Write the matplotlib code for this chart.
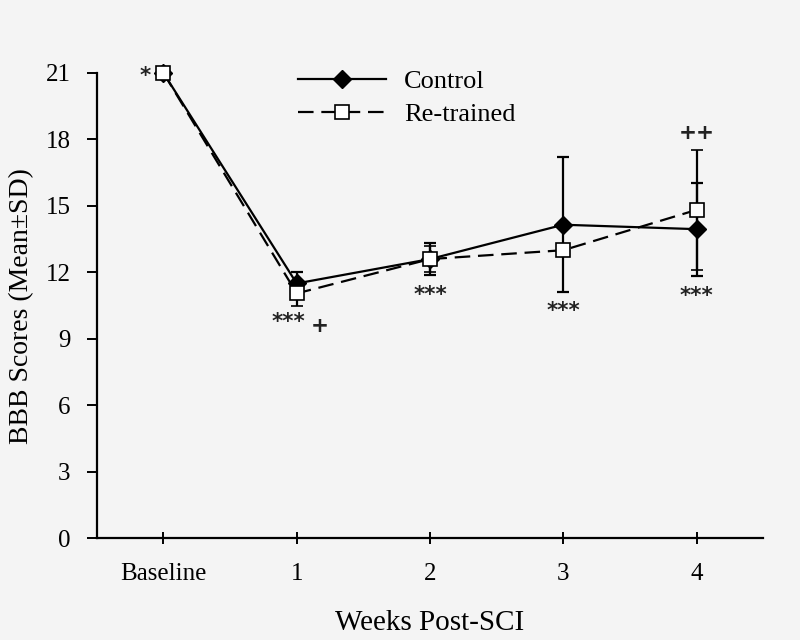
import matplotlib.pyplot as plt
import numpy as np

weeks = ["Baseline", "1", "2", "3", "4"]
control_mean = [21.0, 11.5, 12.6, 14.15, 13.95]
control_sd = [0.0, 0.5, 0.72, 3.05, 2.1]
retrained_mean = [21.0, 11.05, 12.6, 13.0, 14.82]
retrained_sd = [0.0, 0.55, 0.6, 0.2, 2.7]

# significance marks: (x index, y value, text)
sig_marks = [
    (-0.14, 20.85, "*"),
    (0.94, 9.75, "***"),
    (1.17, 9.6, "+"),
    (2.0, 11.0, "***"),
    (3.0, 10.25, "***"),
    (4.0, 18.3, "++"),
    (4.0, 10.95, "***"),
]

plt.rcParams["font.family"] = ["Liberation Serif", "DejaVu Serif"]
bg = "#f4f4f4"

fig = plt.figure(figsize=(8, 6.4), dpi=100, facecolor=bg)
ax = fig.add_axes([0.121, 0.159, 0.833, 0.727], facecolor=bg)

x = np.arange(len(weeks))
c1 = ax.errorbar(x, control_mean, yerr=control_sd, color="black", lw=1.6,
                 marker="D", ms=9.5, mfc="black", mec="black",
                 capsize=4.5, capthick=1.6, elinewidth=1.6, label="Control", zorder=2)
c2 = ax.errorbar(x, retrained_mean, yerr=retrained_sd, color="black", lw=1.6,
                 ls=(0, (7, 3.5)), marker="s", ms=10.5, mfc="white", mec="black", mew=1.2,
                 capsize=4.5, capthick=1.6, elinewidth=1.6, label="Re-trained", zorder=3)
for c in (c1, c2):
    for art in c.get_children():
        art.set_clip_on(False)

for xi, yi, t in sig_marks:
    ax.text(xi, yi, t, ha="center", va="center", fontsize=15.5,
            family="DejaVu Sans", fontweight="bold", color="#222222")

ax.set_xlim(-0.5, 4.5)
ax.set_ylim(0, 21)
ax.set_yticks(range(0, 22, 3))
ax.set_xticks(x)
ax.set_xticklabels(weeks)
ax.tick_params(axis="both", labelsize=18, colors="black", width=1.4)
ax.tick_params(axis="y", direction="out", length=7, pad=12)
ax.tick_params(axis="x", direction="inout", length=8, pad=14)
ax.spines["top"].set_visible(False)
ax.spines["right"].set_visible(False)
for s in ["left", "bottom"]:
    ax.spines[s].set_linewidth(1.6)

ax.set_xlabel("Weeks Post-SCI", fontsize=21, labelpad=18)
ax.set_ylabel("BBB Scores (Mean\u00b1SD)", fontsize=20, labelpad=8)

handles, labels = ax.get_legend_handles_labels()
handles = [h[0] for h in handles]
ax.legend(handles, labels, loc="upper left", bbox_to_anchor=(0.267, 1.058),
          frameon=False, fontsize=19, handlelength=3.3, handletextpad=0.7,
          labelspacing=0.35)

plt.savefig("out.png", dpi=100, facecolor=bg)
plt.close()
